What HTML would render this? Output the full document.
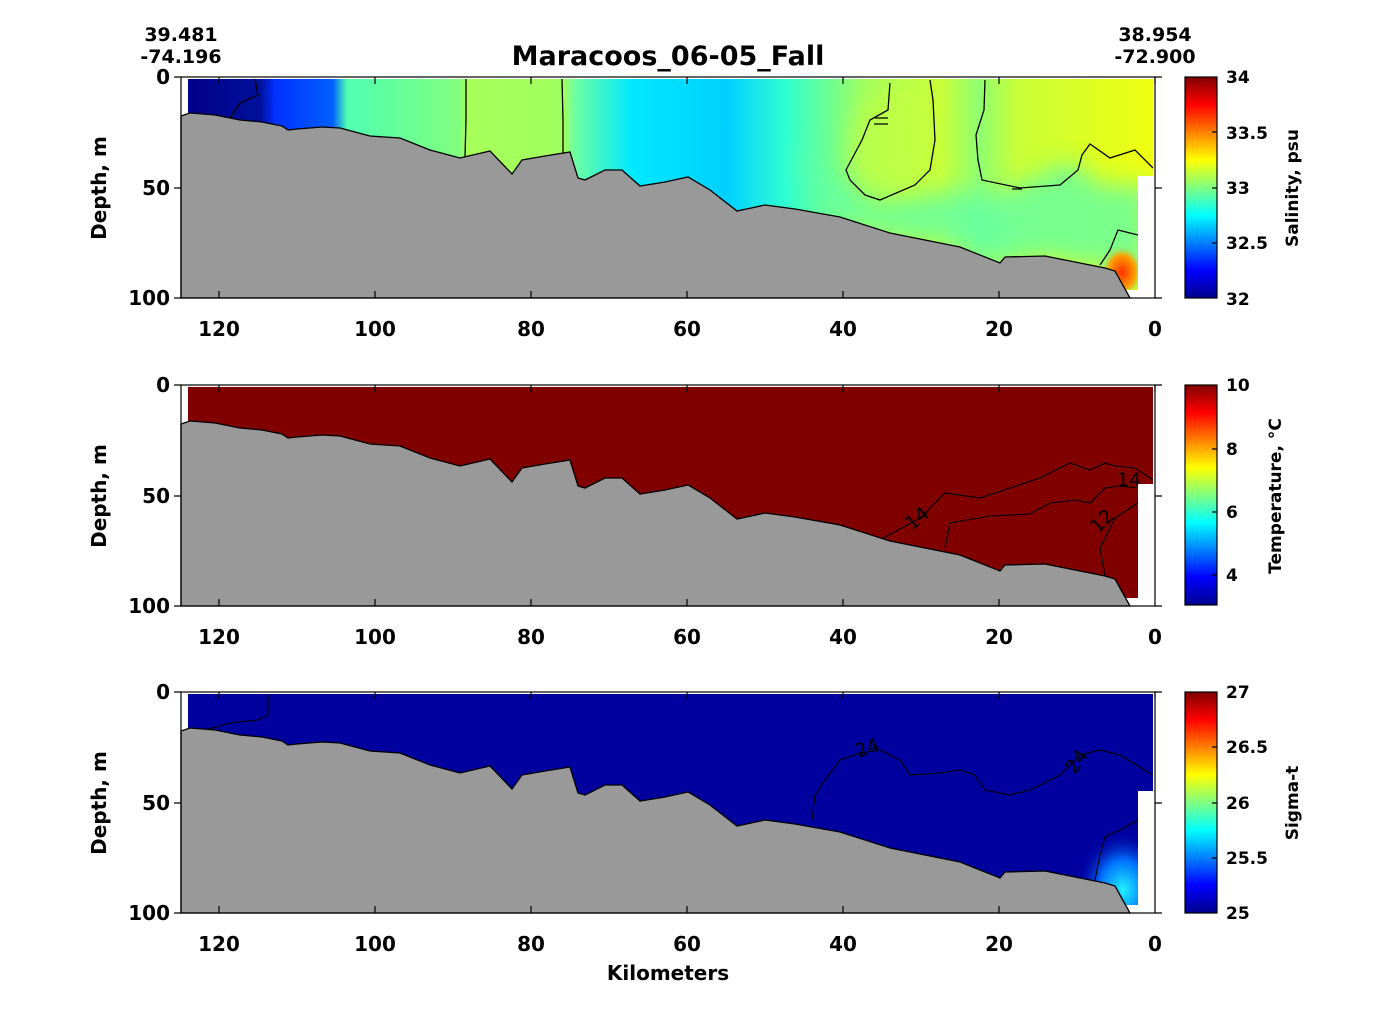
<!DOCTYPE html>
<html><head><meta charset="utf-8"><style>
body{margin:0;background:#fff;}
text{font-family:"DejaVu Sans","Liberation Sans",sans-serif;font-weight:bold;fill:#000;}
</style></head><body>
<svg width="1391" height="1027" viewBox="0 0 1391 1027" xmlns="http://www.w3.org/2000/svg">
<defs>
<linearGradient id="sal" x1="188" x2="1153" y1="0" y2="0" gradientUnits="userSpaceOnUse">
<stop offset="0" stop-color="#00008a"/>
<stop offset="0.075" stop-color="#00109a"/>
<stop offset="0.09" stop-color="#0030ff"/>
<stop offset="0.15" stop-color="#0060ff"/>
<stop offset="0.165" stop-color="#50ffb0"/>
<stop offset="0.28" stop-color="#80ff80"/>
<stop offset="0.29" stop-color="#a8ff58"/>
<stop offset="0.39" stop-color="#a0ff60"/>
<stop offset="0.40" stop-color="#70ffa0"/>
<stop offset="0.46" stop-color="#00e8ff"/>
<stop offset="0.56" stop-color="#00d0ff"/>
<stop offset="0.62" stop-color="#30ffd0"/>
<stop offset="0.70" stop-color="#a0ff60"/>
<stop offset="0.78" stop-color="#c8ff38"/>
<stop offset="0.82" stop-color="#90ff70"/>
<stop offset="0.86" stop-color="#c8ff38"/>
<stop offset="1" stop-color="#f0ff10"/>
</linearGradient>
<linearGradient id="jet" x1="0" x2="0" y1="0" y2="1">
<stop offset="0" stop-color="#800000"/>
<stop offset="0.125" stop-color="#ff0000"/>
<stop offset="0.375" stop-color="#ffff00"/>
<stop offset="0.625" stop-color="#00ffff"/>
<stop offset="0.875" stop-color="#0000ff"/>
<stop offset="1" stop-color="#00008f"/>
</linearGradient>
<radialGradient id="red" cx="0.5" cy="0.5" r="0.5">
<stop offset="0" stop-color="#ff3000"/><stop offset="0.6" stop-color="#ffa000"/><stop offset="1" stop-color="#60ffa0" stop-opacity="0"/>
</radialGradient>
<radialGradient id="lb" cx="0.6" cy="0.75" r="0.6">
<stop offset="0" stop-color="#20f0ff"/><stop offset="0.5" stop-color="#0070ff"/><stop offset="1" stop-color="#00009f" stop-opacity="0"/>
</radialGradient>
<filter id="bl" x="-20%" y="-20%" width="140%" height="140%"><feGaussianBlur stdDeviation="12"/></filter>
<path id="bath" d="M181,116 L190,113 L203,114 L215,115 L240,120 L262,122 L282,126 L288,130 L297,129 L322,127 L340,128 L370,136 L400,138 L430,150 L460,158 L490,151 L512,174 L522,160 L545,156 L570,152 L578,178 L585,180 L605,170 L622,170 L640,186 L665,182 L688,177 L710,190 L737,211 L765,205 L795,209 L840,217 L890,233 L960,247 L1000,263 L1005,257 L1045,256 L1075,262 L1105,268 L1115,271 L1130,298 L181,298 Z"/>
<path id="datab" d="M188,79 L1153,79 L1153,176 L1138,176 L1138,290 L188,290 Z"/>
<clipPath id="dc"><use href="#datab"/></clipPath>
</defs>

<text x="668" y="65" font-size="27" text-anchor="middle">Maracoos_06-05_Fall</text>
<text x="181" y="41" font-size="19" text-anchor="middle">39.481</text>
<text x="181" y="63" font-size="19" text-anchor="middle">-74.196</text>
<text x="1155" y="41" font-size="19" text-anchor="middle">38.954</text>
<text x="1155" y="63" font-size="19" text-anchor="middle">-72.900</text>

<!-- Panel 1 -->
<g>
<use href="#datab" fill="url(#sal)"/>
<g clip-path="url(#dc)">
<path d="M800,140 L820,200 L840,217 L890,233 L960,247 L1000,263 L1045,256 L1075,262 L1105,268 L1150,268 L1150,185 L1100,185 L1070,160 L1000,195 L950,190 L880,205 L830,180 Z" fill="#60ffa8" opacity="0.8" filter="url(#bl)"/>
<path d="M870,100 L890,85 L930,85 L932,150 L925,185 L880,192 L850,170 L852,130 Z" fill="#c8ff40" opacity="0.6" filter="url(#bl)"/>
<ellipse cx="1122" cy="272" rx="22" ry="28" fill="url(#red)"/>
</g>
<g fill="none" stroke="#000" stroke-width="1.3">
<path d="M255,79 L258,95 L240,103 L225,125"/>
<path d="M466,79 L466,120 L465,157"/>
<path d="M562,79 L563,120 L563,153"/>
<path d="M890,83 L888,110 L870,120 L862,140 L846,170 L850,180 L865,195 L880,200 L915,185 L930,170 L935,140 L933,100 L930,80"/>
<path d="M985,80 L984,110 L976,135 L978,160 L982,180 L1020,188 L1060,185 L1078,170 L1082,155 L1090,144 L1110,158 L1135,150 L1153,168"/>
<path d="M1100,265 L1110,250 L1118,230 L1138,235"/>
<path d="M875,118 L888,118 M874,124 L888,124 M1012,189 L1022,189"/>
</g>
<use href="#bath" fill="#999" stroke="#000" stroke-width="1.3"/>
</g>

<!-- Panel 2 -->
<g transform="translate(0,308)">
<use href="#datab" fill="#800000"/>
<g fill="none" stroke="#000" stroke-width="1.1">
<path d="M880,232 L920,210 L945,185 L980,190 L1010,180 L1040,170 L1070,155 L1090,162 L1105,155 L1115,158 L1135,160 L1153,172"/>
<path d="M945,240 L950,215 L990,208 L1030,206 L1050,195 L1075,192 L1090,195 L1105,180 L1118,178 L1138,180"/>
<path d="M1105,268 L1100,240 L1115,210 L1138,195"/>
</g>
<text x="912" y="223" font-size="19" transform="rotate(-40 912 223)" style="font-weight:normal">14</text>
<text x="1117" y="178" font-size="19" style="font-weight:normal">14</text>
<text x="1098" y="226" font-size="19" style="font-weight:normal" transform="rotate(-45 1098 226)">12</text>
<use href="#bath" fill="#999" stroke="#000" stroke-width="1.3"/>
</g>

<!-- Panel 3 -->
<g transform="translate(0,615)">
<use href="#datab" fill="#00009f"/>
<g clip-path="url(#dc)">
<ellipse cx="1115" cy="250" rx="40" ry="50" fill="url(#lb)"/>
</g>
<g fill="none" stroke="#000" stroke-width="1.1">
<path d="M268,79 L268,100 L258,105 L230,108 L205,115"/>
<path d="M812,205 L815,180 L825,165 L840,145 L860,138 L880,135 L900,145 L910,160 L940,158 L960,155 L975,160 L985,175 L1010,180 L1030,175 L1060,160 L1080,140 L1100,135 L1120,140 L1153,160"/>
<path d="M1095,265 L1100,240 L1105,222 L1120,215 L1138,205"/>
</g>
<text x="858" y="143" font-size="19" style="font-weight:normal" transform="rotate(-20 858 143)">24</text>
<text x="1075" y="160" font-size="19" style="font-weight:normal" transform="rotate(-55 1075 160)">24</text>
<use href="#bath" fill="#999" stroke="#000" stroke-width="1.3"/>
</g>

<!-- Axes for each panel -->
<g id="ax">
<rect x="181" y="77" width="974" height="221" fill="none" stroke="#000" stroke-width="1.2"/>
<g stroke="#000" stroke-width="1.2">
<path d="M219,77v7M375,77v7M531,77v7M687,77v7M843,77v7M999,77v7M1155,77v7"/>
<path d="M219,298v-7M375,298v-7M531,298v-7M687,298v-7M843,298v-7M999,298v-7"/>
<path d="M181,77h-7M181,188h-7M181,298h-7M1155,77h7M1155,188h7M1155,298h7"/>
</g>
</g>
<use href="#ax" transform="translate(0,308)"/>
<use href="#ax" transform="translate(0,615)"/>

<g font-size="20">
<g text-anchor="end">
<text x="170" y="84">0</text><text x="170" y="195">50</text><text x="170" y="305">100</text>
<text x="170" y="392">0</text><text x="170" y="503">50</text><text x="170" y="613">100</text>
<text x="170" y="699">0</text><text x="170" y="810">50</text><text x="170" y="920">100</text>
</g>
<g text-anchor="middle">
<text x="219" y="336">120</text><text x="375" y="336">100</text><text x="531" y="336">80</text><text x="687" y="336">60</text><text x="843" y="336">40</text><text x="999" y="336">20</text><text x="1155" y="336">0</text>
<text x="219" y="644">120</text><text x="375" y="644">100</text><text x="531" y="644">80</text><text x="687" y="644">60</text><text x="843" y="644">40</text><text x="999" y="644">20</text><text x="1155" y="644">0</text>
<text x="219" y="951">120</text><text x="375" y="951">100</text><text x="531" y="951">80</text><text x="687" y="951">60</text><text x="843" y="951">40</text><text x="999" y="951">20</text><text x="1155" y="951">0</text>
<text x="668" y="980">Kilometers</text>
</g>
<text transform="translate(106,188) rotate(-90)" text-anchor="middle">Depth, m</text>
<text transform="translate(106,496) rotate(-90)" text-anchor="middle">Depth, m</text>
<text transform="translate(106,803) rotate(-90)" text-anchor="middle">Depth, m</text>
</g>

<!-- Colorbars -->
<g stroke="#000" stroke-width="1.2">
<rect x="1185" y="77" width="32" height="221" fill="url(#jet)"/>
<rect x="1185" y="385" width="32" height="220" fill="url(#jet)"/>
<rect x="1185" y="692" width="32" height="221" fill="url(#jet)"/>
<path d="M1217,132h-5M1217,188h-5M1217,243h-5M1217,449h-5M1217,512h-5M1217,575h-5M1217,747h-5M1217,803h-5M1217,858h-5"/>
</g>
<g font-size="17">
<text x="1226" y="83">34</text><text x="1226" y="139">33.5</text><text x="1226" y="194">33</text><text x="1226" y="249">32.5</text><text x="1226" y="305">32</text>
<text x="1226" y="391">10</text><text x="1226" y="455">8</text><text x="1226" y="518">6</text><text x="1226" y="581">4</text>
<text x="1226" y="698">27</text><text x="1226" y="753">26.5</text><text x="1226" y="809">26</text><text x="1226" y="864">25.5</text><text x="1226" y="919">25</text>
<text transform="translate(1298,188) rotate(-90)" text-anchor="middle">Salinity, psu</text>
<text transform="translate(1281,496) rotate(-90)" text-anchor="middle">Temperature, °C</text>
<text transform="translate(1298,803) rotate(-90)" text-anchor="middle">Sigma-t</text>
</g>
</svg>
</body></html>
